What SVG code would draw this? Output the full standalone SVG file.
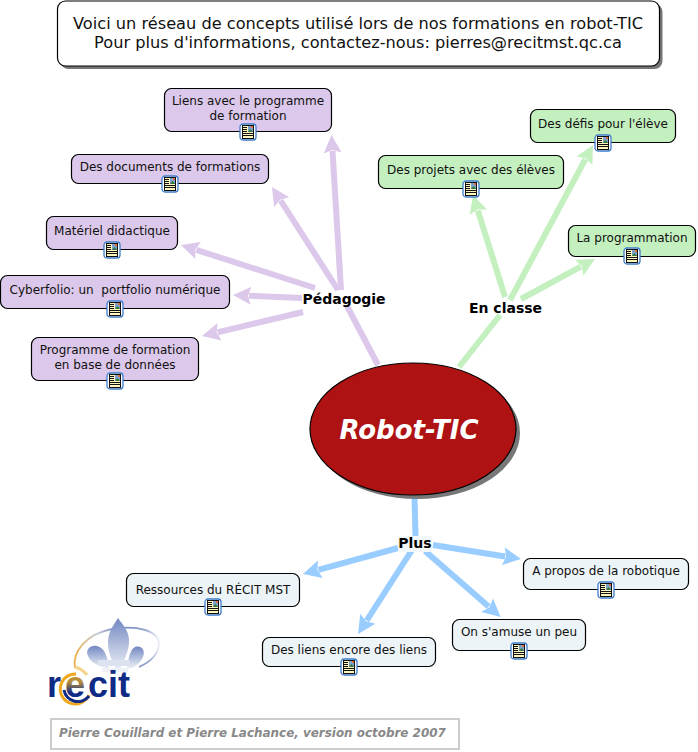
<svg xmlns="http://www.w3.org/2000/svg" width="698" height="752" viewBox="0 0 698 752">
<style>
text{font-family:"DejaVu Sans",Verdana,sans-serif;fill:#111}
.n{stroke:#000;stroke-width:1.2}
.p{fill:#DCC8EA}.g{fill:#C4F0C0}.b{fill:#EDF4F7}
.t{font-size:12px;text-anchor:middle}
.l{font-size:14px;font-weight:bold;text-anchor:middle;fill:#000}
.cp{stroke:#DCC8EA}.cg{stroke:#C4F0C0}.cb{stroke:#99CCFF}
#connectors line{stroke-width:6;fill:none}
.mp{fill:#DCC8EA}.mg{fill:#C4F0C0}.mb{fill:#99CCFF}
</style>
<defs>
<marker id="ap" markerUnits="userSpaceOnUse" markerWidth="20" markerHeight="20" viewBox="-2 -10 20 20" refX="0" refY="0" orient="auto"><path class="mp" d="M-2,-9L16,0L-2,9L1,0z"/></marker>
<marker id="ag" markerUnits="userSpaceOnUse" markerWidth="20" markerHeight="20" viewBox="-2 -10 20 20" refX="0" refY="0" orient="auto"><path class="mg" d="M-2,-9L16,0L-2,9L1,0z"/></marker>
<marker id="ab" markerUnits="userSpaceOnUse" markerWidth="20" markerHeight="20" viewBox="-2 -10 20 20" refX="0" refY="0" orient="auto"><path class="mb" d="M-2,-9L16,0L-2,9L1,0z"/></marker>
<symbol id="doc" width="18" height="18" viewBox="0 0 18 18" overflow="visible">
<rect x="1" y="1" width="16" height="16" rx="3" fill="#fff" stroke="#3F7CC8" stroke-width="1.300"/>
<rect x="3.500" y="2.500" width="11" height="13" fill="#FFF7BE" stroke="#111" stroke-width="1"/>
<rect x="9" y="3" width="5" height="6" fill="#7FA0C8"/>
<path d="M9,9l2.500-3 2.500,3z" fill="#2F7A3B"/><rect x="12" y="3" width="2" height="2" fill="#E07040"/>
<path d="M4,4.500H8M4,6.500H8M4,8.500H8M4,10.500H14M4,12.500H14" stroke="#111" stroke-width="1" fill="none"/>
</symbol>
<linearGradient id="fl" x1="0" y1="0" x2="0" y2="1"><stop offset="0" stop-color="#7288C2"/><stop offset=".6" stop-color="#BFC9E3"/><stop offset="1" stop-color="#F0F2F9"/></linearGradient>
<linearGradient id="ring" gradientUnits="userSpaceOnUse" x1="74" y1="660" x2="160" y2="650"><stop offset="0" stop-color="#EDB04A"/><stop offset=".3" stop-color="#C8CCD8"/><stop offset=".55" stop-color="#7288C2"/><stop offset=".85" stop-color="#8FA0CC"/><stop offset="1" stop-color="#EEF0F8"/></linearGradient>
<linearGradient id="eg" x1="0" y1="0" x2="0" y2="1"><stop offset="0" stop-color="#F0A81E"/><stop offset=".45" stop-color="#B08A40"/><stop offset=".7" stop-color="#102B85"/><stop offset="1" stop-color="#102B85"/></linearGradient>
</defs>

<g id="connectors">
<line class="cp" x1="378" y1="365" x2="347" y2="306"/>
<line class="cp" x1="341" y1="290" x2="332.500" y2="151" marker-end="url(#ap)"/>
<line class="cp" x1="338" y1="290" x2="280.600" y2="200.500" marker-end="url(#ap)"/>
<line class="cp" x1="315" y1="288" x2="196.200" y2="249.900" marker-end="url(#ap)"/>
<line class="cp" x1="302" y1="298" x2="249" y2="295.700" marker-end="url(#ap)"/>
<line class="cp" x1="303" y1="312" x2="217.600" y2="332.300" marker-end="url(#ap)"/>
<line class="cg" x1="459" y1="367" x2="500" y2="315"/>
<line class="cg" x1="505" y1="297" x2="477.800" y2="210.300" marker-end="url(#ag)"/>
<line class="cg" x1="510" y1="300" x2="585.400" y2="159.100" marker-end="url(#ag)"/>
<line class="cg" x1="521" y1="299" x2="580.900" y2="266.600" marker-end="url(#ag)"/>
<line class="cb" x1="414.500" y1="497" x2="415.500" y2="536"/>
<line class="cb" x1="398" y1="548" x2="318.400" y2="569.800" marker-end="url(#ab)"/>
<line class="cb" x1="412" y1="550" x2="366.700" y2="620.500" marker-end="url(#ab)"/>
<line class="cb" x1="433" y1="545" x2="505.200" y2="556.500" marker-end="url(#ab)"/>
<line class="cb" x1="425" y1="551" x2="488.600" y2="606.500" marker-end="url(#ab)"/>
</g>

<g id="header">
<rect x="60.500" y="4" width="602" height="65" rx="8" fill="#777"/>
<rect x="57.500" y="1" width="602" height="65" rx="8" fill="#fff" stroke="#000" stroke-width="1.200"/>
<text x="358" y="29" font-size="16.200" text-anchor="middle">Voici un réseau de concepts utilisé lors de nos formations en robot-TIC</text>
<text x="358" y="48" font-size="16.200" text-anchor="middle">Pour plus d'informations, contactez-nous: pierres@recitmst.qc.ca</text>
</g>

<g id="centre">
<ellipse cx="417" cy="433" rx="103" ry="66" fill="#777"/>
<ellipse cx="413" cy="429" rx="103" ry="66" fill="#AF1212" stroke="#000" stroke-width="1.200"/>
<text x="409" y="438.500" font-size="26" font-weight="bold" font-style="italic" text-anchor="middle" style="fill:#fff">Robot-TIC</text>
</g>

<g id="pedagogie"><text class="l" x="344" y="304">Pédagogie</text></g>
<g id="enclasse"><text class="l" x="505.500" y="313">En classe</text></g>
<g id="plus"><rect x="398" y="536" width="34" height="16" fill="#F2F7FA"/><text class="l" x="415" y="548">Plus</text></g>

<g id="liens-programme"><rect class="n p" x="164.500" y="88.500" width="167" height="43" rx="7"/><text class="t" x="248" y="105">Liens avec le programme</text><text class="t" x="248" y="120">de formation</text><use href="#doc" x="239" y="123"/></g>
<g id="documents"><rect class="n p" x="71.500" y="154.500" width="197" height="29" rx="7"/><text class="t" x="170" y="171">Des documents de formations</text><use href="#doc" x="161" y="175"/></g>
<g id="materiel"><rect class="n p" x="46.500" y="216.500" width="131" height="33" rx="7"/><text class="t" x="112" y="235">Matériel didactique</text><use href="#doc" x="103" y="241"/></g>
<g id="cyberfolio"><rect class="n p" x="0.500" y="275.500" width="229" height="33" rx="7"/><text class="t" x="115" y="294" xml:space="preserve">Cyberfolio: un  portfolio numérique</text><use href="#doc" x="106" y="300"/></g>
<g id="programme-bd"><rect class="n p" x="31.500" y="337.500" width="167" height="43" rx="7"/><text class="t" x="115" y="354">Programme de formation</text><text class="t" x="115" y="369">en base de données</text><use href="#doc" x="106" y="372"/></g>

<g id="defis"><rect class="n g" x="530.500" y="109.500" width="145" height="33" rx="7"/><text class="t" x="603" y="128">Des défis pour l'élève</text><use href="#doc" x="594" y="134"/></g>
<g id="projets"><rect class="n g" x="378.500" y="155.500" width="185" height="33" rx="7"/><text class="t" x="471" y="174">Des projets avec des élèves</text><use href="#doc" x="462" y="180"/></g>
<g id="programmation"><rect class="n g" x="568.500" y="225.500" width="127" height="31" rx="7"/><text class="t" x="632" y="242">La programmation</text><use href="#doc" x="623" y="247"/></g>

<g id="ressources"><rect class="n b" x="126.500" y="573.500" width="173" height="33" rx="7"/><text class="t" x="213" y="594">Ressources du RÉCIT MST</text><use href="#doc" x="204" y="598"/></g>
<g id="liens-encore"><rect class="n b" x="262.500" y="637.500" width="173" height="29" rx="7"/><text class="t" x="349" y="654">Des liens encore des liens</text><use href="#doc" x="340" y="658"/></g>
<g id="apropos"><rect class="n b" x="523.500" y="558.500" width="165" height="31" rx="7"/><text class="t" x="606" y="575">A propos de la robotique</text><use href="#doc" x="597" y="581"/></g>
<g id="amuse"><rect class="n b" x="452.500" y="619.500" width="133" height="31" rx="7"/><text class="t" x="519" y="636">On s'amuse un peu</text><use href="#doc" x="510" y="642"/></g>

<g id="logo">
<path d="M75,668C72,652 86,634 112,629C136,625 160,630 159,645C158,655 150,662 139,667" fill="none" stroke="url(#ring)" stroke-width="1.800"/>
<path d="M118,618C123,625 130,632 129,643C128,655 122,664 119,672L117,672C114,664 108,655 108,643C108,632 113,626 118,618z" fill="url(#fl)"/>
<path d="M109,669C108,660 106,648 97,646C90,645 85,650 88,656C90,661 95,664 100,666z" fill="url(#fl)"/>
<path d="M127,669C128,660 130,649 135,647C141,645 146,650 143,657C141,662 136,666 132,668z" fill="url(#fl)"/>
<rect x="98" y="660" width="32" height="6" fill="#DDE2F0"/><rect x="102" y="668" width="26" height="4" fill="#EEF1F8"/>
<path d="M75,667a22,22 0 0 1 12,8" fill="none" stroke="#F3D48A" stroke-width="3"/>
<path d="M76,674a15,15 0 1 0 13,21" fill="none" stroke="#F0A81E" stroke-width="3"/>
<path d="M64,690a14,14 0 0 0 25,6" fill="none" stroke="#102B85" stroke-width="3"/>
<text font-size="36" font-weight="bold" y="697" style="font-family:'Liberation Sans',Arial,sans-serif;fill:#102B85"><tspan x="47">r</tspan><tspan x="65" style="fill:url(#eg)">e</tspan><tspan x="88">cit</tspan></text>
</g>

<g id="credit">
<rect x="51" y="719" width="408" height="30" fill="#fff" stroke="#ccc" stroke-width="2"/>
<text x="59" y="737" font-size="11.950" font-weight="bold" font-style="italic" style="fill:#888">Pierre Couillard et Pierre Lachance, version octobre 2007</text>
</g>
</svg>
